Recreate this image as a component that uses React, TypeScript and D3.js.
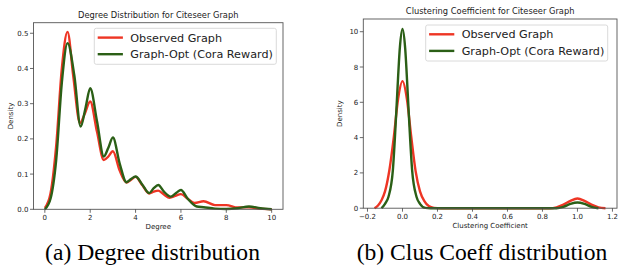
import * as d3 from 'd3';

// Degree distribution (KDE)
const degreeX = [0, 0.25, 0.5, 0.75, 1.0, 1.25, 1.55, 1.75, 2.0, 2.3, 2.6, 2.8, 3.0, 3.3, 3.6, 3.8, 4.0, 4.3, 4.6, 4.8, 5.0, 5.25, 5.5, 5.75, 6.0, 6.3, 6.6, 7.0, 7.5, 8.0, 8.5, 9.0, 9.5, 10.0];
const degreeObserved = [0.004, 0.045, 0.18, 0.40, 0.504, 0.38, 0.245, 0.27, 0.306, 0.22, 0.14, 0.15, 0.165, 0.11, 0.076, 0.084, 0.092, 0.068, 0.045, 0.05, 0.053, 0.042, 0.033, 0.038, 0.043, 0.03, 0.018, 0.023, 0.012, 0.012, 0.005, 0.006, 0.002, 0.0];
const degreeOptX = [0, 0.25, 0.5, 0.75, 1.0, 1.3, 1.58, 1.8, 2.0, 2.3, 2.6, 2.8, 3.0, 3.3, 3.6, 3.8, 4.0, 4.3, 4.6, 4.8, 5.0, 5.25, 5.55, 5.8, 6.0, 6.3, 6.7, 7.0, 7.5, 8.0, 8.5, 9.0, 9.5, 10.0];
const degreeOpt = [0.0, 0.03, 0.14, 0.36, 0.472, 0.38, 0.235, 0.29, 0.344, 0.25, 0.15, 0.175, 0.204, 0.13, 0.077, 0.086, 0.093, 0.07, 0.046, 0.06, 0.069, 0.05, 0.036, 0.047, 0.055, 0.03, 0.008, 0.006, 0.002, 0.001, 0.003, 0.008, 0.003, 0.0];

// Clustering coefficient
const clusX = [-0.16, -0.14, -0.12, -0.1, -0.075, -0.05, -0.025, 0, 0.025, 0.05, 0.075, 0.1, 0.125, 0.15, 0.18, 0.22, 0.5, 0.84, 0.88, 0.92, 0.96, 1.0, 1.04, 1.08, 1.12, 1.16];
const clusObserved = [0, 0.15, 0.45, 0.95, 2.15, 4.0, 6.2, 7.2, 6.2, 4.05, 2.1, 0.95, 0.4, 0.12, 0.02, 0, 0, 0, 0.05, 0.2, 0.42, 0.55, 0.42, 0.2, 0.05, 0];
const clusOptX = [-0.12, -0.1, -0.08, -0.055, -0.04, -0.03, -0.015, 0, 0.015, 0.03, 0.04, 0.055, 0.08, 0.1, 0.13, 0.16, 0.5, 0.88, 0.92, 0.96, 1.0, 1.04, 1.08, 1.12];
const clusOpt = [0, 0.25, 0.65, 2.16, 4.6, 6.5, 9.1, 10.15, 9.1, 6.5, 4.6, 2.16, 0.65, 0.25, 0.02, 0, 0, 0, 0.08, 0.24, 0.32, 0.24, 0.08, 0];

const degreeXTicks = [0, 2, 4, 6, 8, 10];
const degreeYTicks = [0, 0.1, 0.2, 0.3, 0.4, 0.5];
const clusXTicks = [-0.2, 0, 0.2, 0.4, 0.6, 0.8, 1.0, 1.2];
const clusYTicks = [0, 2, 4, 6, 8, 10];

const seriesNames = ['Observed Graph', 'Graph-Opt (Cora Reward)'];
const RED = '#ee3524';
const GREEN = '#2b5f16';
const FONT = '"DejaVu Sans", sans-serif';
const SERIF = '"Liberation Serif", "DejaVu Serif", Times, serif';

interface PanelProps {
  box: { left: number; top: number; right: number; bottom: number };
  xDomain: [number, number];
  yDomain: [number, number];
  xTicks: number[];
  yTicks: number[];
  xFmt: (v: number) => string;
  yFmt: (v: number) => string;
  series: { x: number[]; y: number[]; color: string }[];
  title: string;
  xLabel: string;
  legendX: number;
  legendY: number;
  caption: string;
  captionX: number;
}

const Panel = ({ box, xDomain, yDomain, xTicks, yTicks, xFmt, yFmt, series, title, xLabel, legendX, legendY, caption, captionX }: PanelProps) => {
  const x = d3.scaleLinear().domain(xDomain).range([box.left, box.right]);
  const y = d3.scaleLinear().domain(yDomain).range([box.bottom, box.top]);
  const line = d3.line<[number, number]>()
    .curve(d3.curveMonotoneX)
    .x(d => x(d[0]))
    .y(d => y(d[1]));
  const cx = (box.left + box.right) / 2;
  const cy = (box.top + box.bottom) / 2;

  return (
    <g>
      <g style={{ fontFamily: FONT }}>
        <text x={cx} y={box.top - 5} textAnchor="middle" fontSize={8.3} fill="#222">{title}</text>
        {series.map((s, i) => (
          <path key={i} d={line(s.x.map((v, j) => [v, s.y[j]]) as [number, number][]) || ''}
            fill="none" stroke={s.color} strokeWidth={2.4} strokeLinejoin="round" />
        ))}
        <rect x={box.left} y={box.top} width={box.right - box.left} height={box.bottom - box.top}
          fill="none" stroke="#555" strokeWidth={0.9} />
        {xTicks.map(t => (
          <g key={t}>
            <line x1={x(t)} x2={x(t)} y1={box.bottom} y2={box.bottom + 3.5} stroke="#444" strokeWidth={0.8} />
            <text x={x(t)} y={box.bottom + 10.5} textAnchor="middle" fontSize={7} fill="#222">{xFmt(t)}</text>
          </g>
        ))}
        {yTicks.map(t => (
          <g key={t}>
            <line x1={box.left - 3.5} x2={box.left} y1={y(t)} y2={y(t)} stroke="#444" strokeWidth={0.8} />
            <text x={box.left - 5} y={y(t) + 2.5} textAnchor="end" fontSize={7} fill="#222">{yFmt(t)}</text>
          </g>
        ))}
        <text x={cx} y={box.bottom + 19.5} textAnchor="middle" fontSize={7} fill="#222">{xLabel}</text>
        <text transform={`translate(${box.left - 21},${cy}) rotate(-90)`} textAnchor="middle" fontSize={7} fill="#222">Density</text>
        <rect x={legendX} y={legendY} width={182} height={36} rx={2} fill="#fff" fillOpacity={0.8} stroke="#d0d0d0" strokeWidth={0.8} />
        {seriesNames.map((name, i) => (
          <g key={name}>
            <line x1={legendX + 3.4} x2={legendX + 28.6} y1={legendY + 9.3 + i * 16.6} y2={legendY + 9.3 + i * 16.6}
              stroke={series[i].color} strokeWidth={2.4} />
            <text x={legendX + 36} y={legendY + 13.3 + i * 16.6} fontSize={11.2} fill="#222">{name}</text>
          </g>
        ))}
      </g>
      <text x={captionX} y={259.5} textAnchor="middle" fontFamily={SERIF} fontSize={23.6} fill="#000">{caption}</text>
    </g>
  );
};

const fmt1 = (v: number) => d3.format('.1f')(v).replace('-', '\u2212');
const fmt0 = (v: number) => d3.format('d')(v);

export default function App() {
  return (
    <svg width={618} height={265} style={{ position: 'absolute', left: 0, top: 0, background: '#fff' }}>
      <Panel
        box={{ left: 33.5, top: 22.7, right: 283, bottom: 209.3 }}
        xDomain={[-0.5, 10.5]}
        yDomain={[0, 0.53]}
        xTicks={degreeXTicks}
        yTicks={degreeYTicks}
        xFmt={fmt0}
        yFmt={fmt1}
        series={[
          { x: degreeX, y: degreeObserved, color: RED },
          { x: degreeOptX, y: degreeOpt, color: GREEN },
        ]}
        title="Degree Distribution for Citeseer Graph"
        xLabel="Degree"
        legendX={94.3}
        legendY={28.3}
        caption="(a) Degree distribution"
        captionX={152.5}
      />
      <Panel
        box={{ left: 363.3, top: 19, right: 617, bottom: 208.2 }}
        xDomain={[-0.224, 1.226]}
        yDomain={[0, 10.72]}
        xTicks={clusXTicks}
        yTicks={clusYTicks}
        xFmt={fmt1}
        yFmt={fmt0}
        series={[
          { x: clusX, y: clusObserved, color: RED },
          { x: clusOptX, y: clusOpt, color: GREEN },
        ]}
        title="Clustering Coefficient for Citeseer Graph"
        xLabel="Clustering Coefficient"
        legendX={425.7}
        legendY={25}
        caption="(b) Clus Coeff distribution"
        captionX={482}
      />
    </svg>
  );
}
